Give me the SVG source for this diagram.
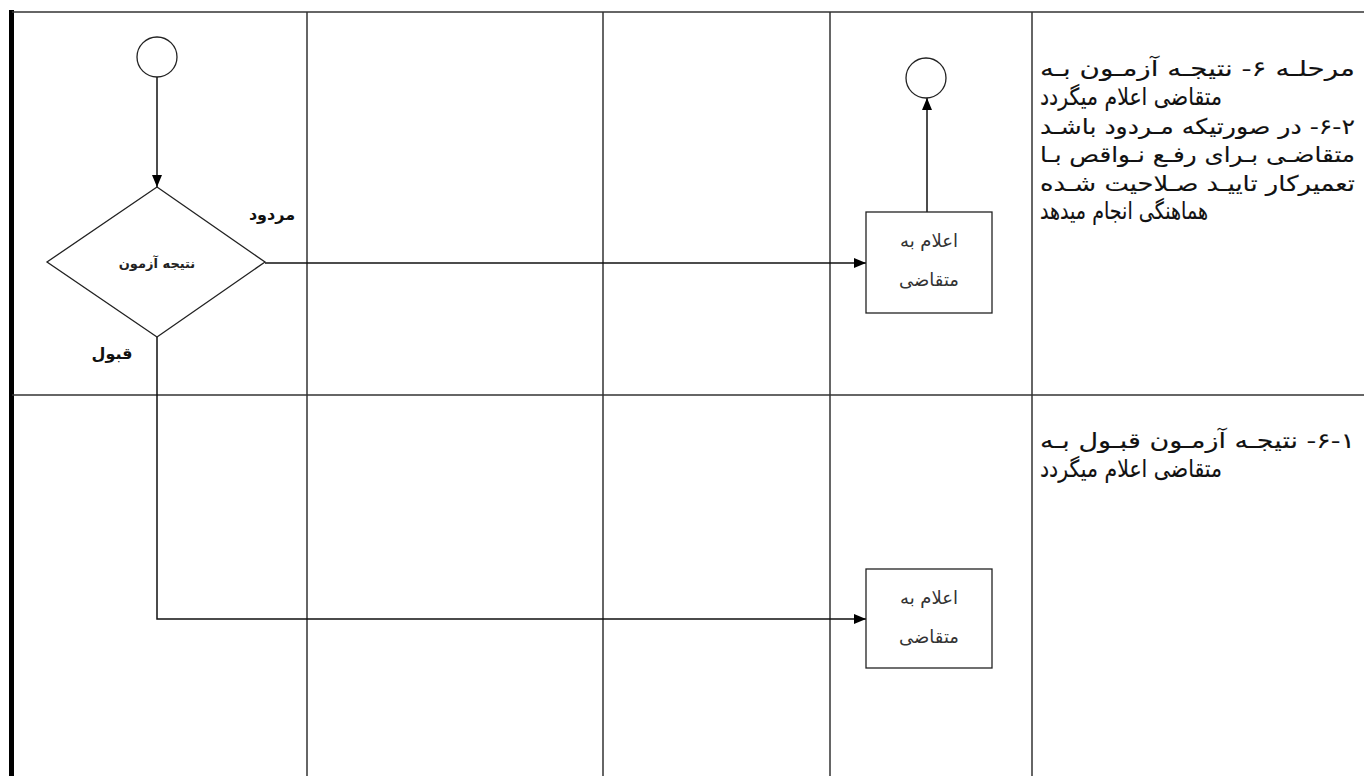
<svg xmlns="http://www.w3.org/2000/svg" width="1364" height="776" viewBox="0 0 1364 776">
<style>
.grid{stroke:#333;stroke-width:1.5;fill:none}
.conn{stroke:#111;stroke-width:1.5;fill:none}
.shape{stroke:#222;stroke-width:1.3;fill:#fff}
.desc{font-family:"DejaVu Sans",sans-serif;font-size:21.5px;fill:#111;stroke:#111;stroke-width:0.12}
.lbl{font-family:"DejaVu Sans",sans-serif;font-size:16px;font-weight:bold;fill:#111}
.box{font-family:"DejaVu Sans",sans-serif;font-size:18px;fill:#333;text-anchor:middle}
.dia{font-family:"DejaVu Sans",sans-serif;font-size:13px;font-weight:bold;fill:#222;text-anchor:middle}
</style>
<defs>
<marker id="arr" viewBox="0 0 12 10" refX="12" refY="5" markerWidth="12" markerHeight="10" markerUnits="userSpaceOnUse" orient="auto">
<path d="M0,0 L12,5 L0,10 z" fill="#000"/>
</marker>
</defs>
<rect width="1364" height="776" fill="#fff"/>
<g id="table">
<line x1="11.5" y1="10" x2="11.5" y2="776" stroke="#000" stroke-width="5"/>
<line class="grid" x1="12" y1="12" x2="1364" y2="12"/>
<line class="grid" x1="12" y1="395" x2="1364" y2="395"/>
<line class="grid" x1="307" y1="12" x2="307" y2="776"/>
<line class="grid" x1="603" y1="12" x2="603" y2="776"/>
<line class="grid" x1="830" y1="12" x2="830" y2="776"/>
<line class="grid" x1="1032" y1="12" x2="1032" y2="776"/>
</g>
<g id="connectors">
<line class="conn" x1="157" y1="77" x2="157" y2="187" marker-end="url(#arr)"/>
<line class="conn" x1="265" y1="263" x2="866" y2="263" marker-end="url(#arr)"/>
<line class="conn" x1="927" y1="212" x2="927" y2="98" marker-end="url(#arr)"/>
<polyline class="conn" points="157,337 157,619 866,619" marker-end="url(#arr)"/>
</g>
<g id="start">
<circle class="shape" cx="157" cy="57" r="20"/>
</g>
<g id="decision">
<polygon class="shape" points="157,187 265,262 157,337 47,262"/>
<text class="dia" x="157" y="268">نتیجه آزمون</text>
</g>
<g id="label-rejected">
<text class="lbl" x="272" y="220" text-anchor="middle">مردود</text>
</g>
<g id="label-accepted">
<text class="lbl" x="112" y="359" text-anchor="middle">قبول</text>
</g>
<g id="end">
<circle class="shape" cx="926" cy="78" r="20"/>
</g>
<g id="notify-1">
<rect class="shape" x="866" y="212" width="126" height="101"/>
<text class="box" x="929" y="247">اعلام به</text>
<text class="box" x="929" y="286">متقاضی</text>
</g>
<g id="notify-2">
<rect class="shape" x="866" y="569" width="126" height="99"/>
<text class="box" x="929" y="604">اعلام به</text>
<text class="box" x="929" y="643">متقاضی</text>
</g>
<g id="desc-top">
<text class="desc" x="1040" y="76" textLength="315" lengthAdjust="spacingAndGlyphs">&#x200F;مرحلـه ۶-  نتیجـه آزمـون بـه</text>
<text class="desc" x="0" y="0" transform="translate(1040,105) scale(1,1.1)" textLength="182" lengthAdjust="spacingAndGlyphs">&#x200F;متقاضی اعلام میگردد</text>
<text class="desc" x="1040" y="134" textLength="315" lengthAdjust="spacingAndGlyphs">&#x200F;۶-۲- در صورتیکه مـردود باشـد</text>
<text class="desc" x="1040" y="162" textLength="315" lengthAdjust="spacingAndGlyphs">&#x200F;متقاضـی بـرای رفـع نـواقص بـا</text>
<text class="desc" x="1040" y="191" textLength="315" lengthAdjust="spacingAndGlyphs">&#x200F;تعمیرکار تاییـد صـلاحیت شـده</text>
<text class="desc" x="0" y="0" transform="translate(1040,219) scale(1,1.1)" textLength="168" lengthAdjust="spacingAndGlyphs">&#x200F;هماهنگی انجام میدهد</text>
</g>
<g id="desc-bottom">
<text class="desc" x="1040" y="448" textLength="315" lengthAdjust="spacingAndGlyphs">&#x200F;۶-۱- نتیجـه آزمـون قبـول بـه</text>
<text class="desc" x="0" y="0" transform="translate(1040,477) scale(1,1.1)" textLength="182" lengthAdjust="spacingAndGlyphs">&#x200F;متقاضی اعلام میگردد</text>
</g>
</svg>
